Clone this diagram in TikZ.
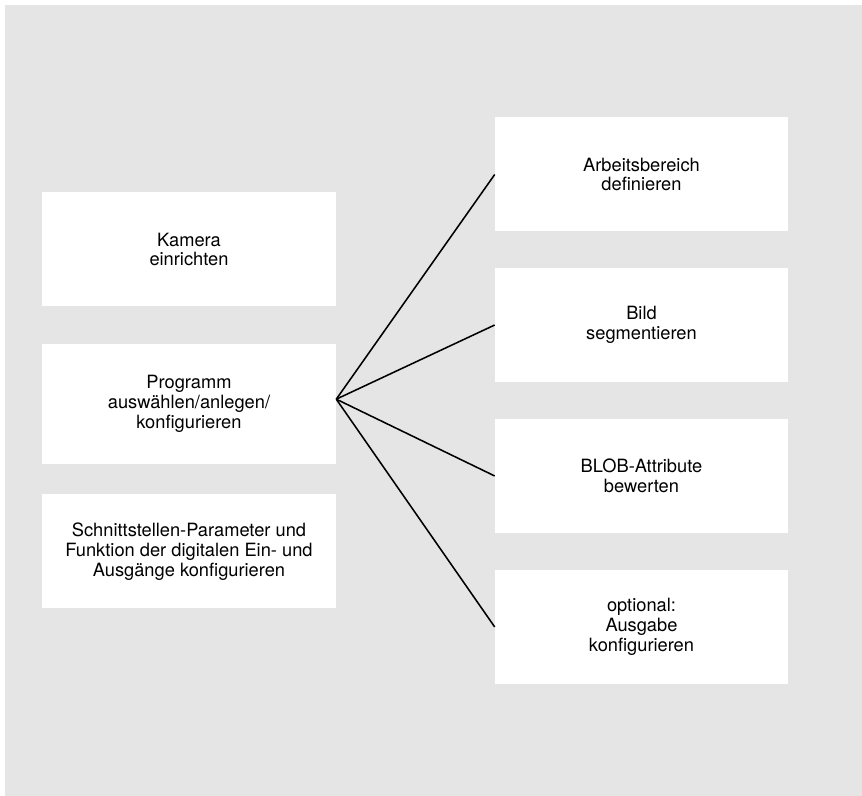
\documentclass[tikz,border=0pt]{standalone}
\usepackage{fontspec}
\setmainfont{TeX Gyre Heros}
\usepackage{xcolor}
\usetikzlibrary{positioning}
\definecolor{bggray}{HTML}{E5E5E5}

\begin{document}
\begin{tikzpicture}[
      box/.style={rectangle,fill=white,
                  minimum width=7.35cm,minimum height=2.85cm,
                  align=center,font=\fontsize{13}{14}\selectfont},
      stepbox/.style={box,minimum width=7.325cm},
      line/.style={line width=1.1pt,black}
    ]

    % background
    \fill[white] (0,0) rectangle (21.55,19.9);
    \fill[bggray] (0.125,0) rectangle (21.55,19.775);
    \useasboundingbox (0,0) rectangle (21.55,19.9);

    % left column
    \node[box] (cam)  at (4.725,13.6625) {Kamera\\einrichten};
    \node[box,minimum height=3.0cm] (prog) at (4.725,9.8)
          {Programm\\auswählen/anlegen/\\konfigurieren};
    \node[box] (io)   at (4.725,6.1125)
          {Schnittstellen-Parameter und\\Funktion der digitalen Ein- und\\Ausgänge konfigurieren};

    % right column
    \node[stepbox] (area) at (16.0375,15.5375) {Arbeitsbereich\\definieren};
    \node[stepbox] (seg)  at (16.0375,11.775)  {Bild\\segmentieren};
    \node[stepbox] (blob) at (16.0375,8.0)     {BLOB-Attribute\\bewerten};
    \node[stepbox] (out)  at (16.0375,4.225)   {optional:\\Ausgabe\\konfigurieren};

    % lines
    \coordinate (hub) at ([yshift=0.12cm]prog.east);
    \draw[line] (hub) -- (area.west);
    \draw[line] (hub) -- (seg.west);
    \draw[line] (hub) -- (blob.west);
    \draw[line] (hub) -- (out.west);

  \end{tikzpicture}
\end{document}
